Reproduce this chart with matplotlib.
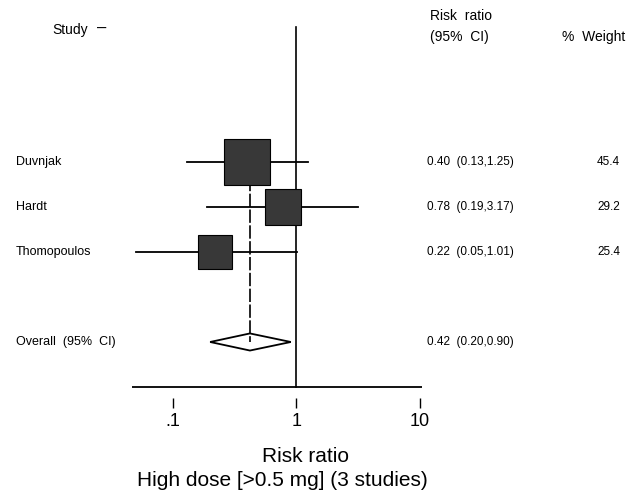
import numpy as np
import matplotlib.pyplot as plt
from matplotlib import transforms
from matplotlib.ticker import NullLocator

plt.rcParams['font.family'] = ['Liberation Sans', 'DejaVu Sans']

# forest plot data
studies = ['Duvnjak', 'Hardt', 'Thomopoulos']
rr = [0.40, 0.78, 0.22]
ci_low = [0.13, 0.19, 0.05]
ci_high = [1.25, 3.17, 1.01]
weight = [45.4, 29.2, 25.4]
overall = 0.42
overall_low = 0.20
overall_high = 0.90
ticks = [0.1, 1, 10]
tick_labels = ['.1', '1', '10']

rows = [1, 2, 3]
overall_row = 5

fig = plt.figure(figsize=(6.39, 4.94), dpi=100)
ax = fig.add_axes([132 / 639, 86 / 494, 290 / 639, 399 / 494])
ax.set_xscale('log')
ax.set_xlim(0.0466, 10.38)
ax.set_ylim(6.467, -2.4)

# reference line at 1 and bottom axis line
ax.plot([1, 1], [-2, 6], color='k', lw=1.2, zorder=1)
ax.axhline(6, color='k', lw=1.3)

# confidence intervals
for r, lo, hi in zip(rows, ci_low, ci_high):
    ax.plot([lo, hi], [r, r], color='k', lw=1.3, zorder=2)

# overall diamond + dashed line
ax.fill([overall_low, overall, overall_high, overall],
        [overall_row, overall_row - 0.19, overall_row, overall_row + 0.19],
        facecolor='white', edgecolor='k', lw=1.3, zorder=2.5)
ax.plot([overall, overall], [rows[0], overall_row], color='k', lw=1.2,
        ls=(0, (8, 1.5)), zorder=3)

# weighted boxes
for r, est, w in zip(rows, rr, weight):
    ax.plot(est, r, 's', ms=4.92 * np.sqrt(w), mfc='#383838', mec='k',
            mew=0.8, zorder=4)

for s in ax.spines.values():
    s.set_visible(False)
ax.set_yticks([])
ax.set_xticks(ticks, tick_labels)
ax.xaxis.set_minor_locator(NullLocator())
ax.tick_params(axis='x', direction='in', length=7.2, width=1, pad=3.5,
               labelsize=13)

tr = transforms.blended_transform_factory(fig.transFigure, ax.transData)

# left column
for r, name in zip(rows, studies):
    ax.text(16 / 639, r, name, transform=tr, va='center', fontsize=9)
ax.text(16 / 639, overall_row, 'Overall  (95%  CI)', transform=tr,
        va='center', fontsize=9)

# right columns
for r, est, lo, hi, w in zip(rows, rr, ci_low, ci_high, weight):
    ax.text(427 / 639, r, f'{est:.2f}  ({lo:.2f},{hi:.2f})', transform=tr,
            va='center', fontsize=8.5)
    ax.text(620 / 639, r, f'{w:.1f}', transform=tr, va='center',
            ha='right', fontsize=8.5)
ax.text(427 / 639, overall_row,
        f'{overall:.2f}  ({overall_low:.2f},{overall_high:.2f})',
        transform=tr, va='center', fontsize=8.5)

# headers
ax.text(52 / 639, -1.93, 'Study', transform=tr, va='center', fontsize=10)
ax.text(97 / 639, -1.97, '\u2013', transform=tr, va='center', fontsize=12)
ax.text(430 / 639, -2.24, 'Risk  ratio', transform=tr, va='center',
        fontsize=10)
ax.text(430 / 639, -1.78, '(95%  CI)', transform=tr, va='center',
        fontsize=10)
ax.text(562 / 639, -1.78, '%  Weight', transform=tr, va='center',
        fontsize=10)

fig.text(306 / 639, 1 - 462 / 494, 'Risk ratio', ha='center',
         va='baseline', fontsize=15)
fig.text(282 / 639, 1 - 486 / 494, 'High dose [>0.5 mg] (3 studies)',
         ha='center', va='baseline', fontsize=15)

fig.savefig('out.png', dpi=100)
